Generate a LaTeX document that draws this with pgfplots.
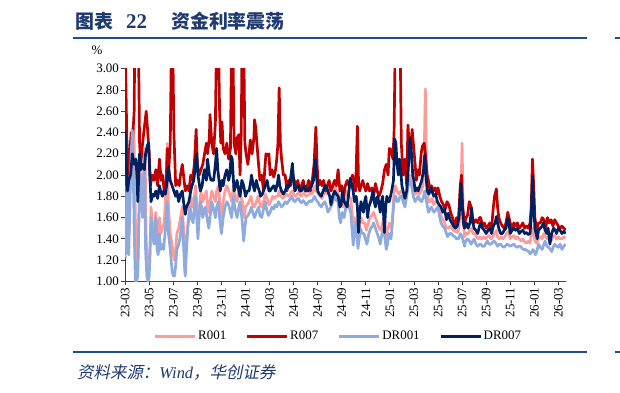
\documentclass[border=0pt]{standalone}
\usepackage{pgfplots}
\pgfplotsset{compat=1.18}
\usepackage{fontspec}
\setmainfont{Liberation Serif}
\newfontfamily\cjk{Noto Sans CJK SC}
\newfontfamily\cjkit[FakeSlant=0.2]{Noto Sans CJK SC}
\definecolor{cR001}{HTML}{FF9C9A}
\definecolor{cR007}{HTML}{C00000}
\definecolor{cDR001}{HTML}{8FAADC}
\definecolor{cDR007}{HTML}{002060}
\definecolor{ttl}{HTML}{1F3A70}
\definecolor{rule}{HTML}{1F4E8C}
\begin{document}
\begin{tikzpicture}[x=1bp,y=1bp]
\useasboundingbox (0,0) rectangle (620,392);
% title
\node[anchor=base west,inner sep=0,text=ttl,font=\fontsize{19}{22}\selectfont\bfseries] at (75,364) {{\cjk 图表}};
\node[anchor=base west,inner sep=0,text=ttl,font=\fontsize{21}{22}\selectfont\bfseries] at (126,364) {22};
\node[anchor=base west,inner sep=0,text=ttl,font=\fontsize{19}{22}\selectfont\bfseries] at (171,364) {{\cjk 资金利率震荡}};
\draw[rule,line width=2bp] (73,354) -- (587,354);
\draw[rule,line width=2bp] (615,354) -- (620,354);
\draw[rule,line width=2bp] (73,40) -- (587,40);
\draw[rule,line width=2bp] (615,40) -- (620,40);
\node[anchor=base west,inner sep=0,text=ttl,font=\fontsize{16.5}{18}\selectfont] at (77,14) {{\cjkit 资料来源：}\textit{Wind}{\cjkit ，华创证券}};
\node[anchor=center,inner sep=0,font=\fontsize{13}{15}\selectfont] at (97,342) {\%};
\begin{axis}[
  at={(104,104)}, anchor=south west,
  scale only axis, width=441bp, height=212.7bp,
  xmin=0, xmax=36.65, ymin=1, ymax=3,
  axis x line=bottom, axis y line=left,
  axis line style={-, black!75, line width=0.8bp},
  tick align=outside, major tick length=4bp,
  tick style={black!75, line width=0.8bp},
  xtick={0,2,...,36},
  xticklabels={23-03,23-05,23-07,23-09,23-11,24-01,24-03,24-05,24-07,24-09,24-11,25-01,25-03,25-05,25-07,25-09,25-11,26-01,26-03},
  xticklabel style={rotate=90, anchor=east, inner sep=2bp, font=\fontsize{13}{15}\selectfont},
  ytick={1,1.2,...,3.01},
  yticklabel style={/pgf/number format/fixed, /pgf/number format/precision=2, /pgf/number format/fixed zerofill, /pgf/number format/assume math mode=true, font=\fontsize{13}{15}\selectfont, inner sep=2bp},
  legend columns=4,
  legend style={at={(axis description cs:0.483,-0.2586)}, anchor=center, draw=none, fill=none, font=\fontsize{13}{15}\selectfont, /tikz/every even column/.append style={column sep=18bp}, nodes={inner xsep=1.5bp}},
  legend image code/.code={\draw[#1,line width=3bp] (0bp,0bp) -- (40bp,0bp);},
  every axis plot/.append style={line width=2.7bp, line join=round},
]
\addplot[cR001] coordinates {
(0,1.3)(0.1,1.5)(0.15,1.9)(0.25,1.4)(0.35,1.5)(0.45,2.0)(0.55,2.4)(0.65,2.45)(0.75,2.3)(0.85,1.6)(0.95,1.1)(1.05,1.15)(1.15,1.7)(1.25,2.05)(1.35,1.9)(1.45,1.7)(1.55,2.05)(1.65,2.25)(1.75,1.4)(1.85,1.15)(1.95,1.1)(2.05,1.2)(2.15,1.7)(2.25,1.55)(2.4,1.45)(2.55,1.65)(2.65,1.4)(2.75,1.5)(2.85,1.6)(2.95,1.45)(3.1,1.5)(3.25,1.55)(3.4,1.9)(3.5,2.3)(3.6,1.7)(3.75,1.45)(3.9,1.35)(4.0,1.25)(4.1,1.2)(4.2,1.3)(4.3,1.45)(4.45,1.5)(4.6,1.6)(4.75,1.7)(4.85,1.5)(4.95,1.3)(5.05,1.25)(5.15,1.45)(5.3,1.65)(5.45,1.8)(5.6,1.7)(5.75,1.8)(5.85,1.9)(5.95,1.75)(6.05,1.55)(6.2,1.7)(6.3,1.85)(6.45,1.75)(6.6,1.8)(6.75,1.85)(6.9,1.65)(7.05,1.75)(7.2,1.85)(7.35,1.8)(7.5,1.75)(7.6,1.85)(7.75,1.9)(7.9,1.7)(8.0,1.6)(8.15,1.75)(8.3,1.85)(8.45,1.9)(8.6,1.85)(8.75,1.8)(8.85,1.75)(9.0,1.9)(9.15,1.8)(9.3,1.75)(9.45,1.85)(9.6,1.8)(9.75,1.75)(9.9,1.6)(10.0,1.7)(10.15,1.72)(10.3,1.75)(10.45,1.8)(10.6,1.72)(10.75,1.7)(10.9,1.75)(11.05,1.8)(11.2,1.72)(11.35,1.7)(11.5,1.75)(11.65,1.82)(11.8,1.78)(11.95,1.72)(12.1,1.75)(12.25,1.8)(12.4,1.78)(12.55,1.8)(12.7,1.8)(12.8,1.85)(12.95,1.8)(13.1,1.78)(13.25,1.8)(13.4,1.82)(13.55,1.8)(13.7,1.82)(13.85,1.85)(14.0,1.82)(14.15,1.8)(14.3,1.82)(14.45,1.84)(14.6,1.8)(14.75,1.82)(14.9,1.83)(15.05,1.8)(15.2,1.81)(15.35,1.83)(15.5,1.82)(15.65,1.85)(15.8,1.9)(15.9,1.85)(16.05,1.82)(16.2,1.8)(16.35,1.78)(16.5,1.82)(16.65,1.85)(16.8,1.82)(16.95,1.9)(17.1,1.85)(17.25,1.88)(17.4,1.9)(17.55,1.85)(17.7,1.82)(17.85,1.7)(18.0,1.72)(18.15,1.7)(18.3,1.8)(18.45,1.85)(18.6,1.8)(18.75,1.78)(18.9,1.6)(19.0,1.45)(19.1,1.6)(19.25,1.55)(19.35,1.42)(19.45,1.5)(19.6,1.6)(19.75,1.55)(19.9,1.55)(20.05,1.48)(20.2,1.55)(20.35,1.6)(20.5,1.62)(20.65,1.65)(20.8,1.6)(20.95,1.55)(21.1,1.5)(21.25,1.48)(21.4,1.55)(21.5,1.6)(21.6,1.5)(21.7,1.42)(21.8,1.48)(21.95,1.55)(22.05,1.52)(22.15,1.5)(22.25,1.65)(22.35,1.85)(22.45,1.9)(22.6,1.85)(22.75,1.82)(22.9,1.85)(23.0,1.85)(23.15,1.8)(23.3,1.78)(23.45,1.85)(23.6,1.95)(23.7,2.0)(23.85,1.95)(24.0,1.85)(24.15,1.82)(24.3,1.85)(24.45,1.82)(24.6,1.85)(24.75,1.9)(24.85,2.2)(24.95,2.81)(25.05,2.0)(25.2,1.75)(25.35,1.75)(25.5,1.78)(25.65,1.72)(25.8,1.75)(25.95,1.75)(26.1,1.68)(26.25,1.62)(26.4,1.58)(26.55,1.55)(26.7,1.5)(26.85,1.5)(27.0,1.52)(27.15,1.5)(27.3,1.48)(27.45,1.47)(27.6,1.46)(27.75,1.5)(27.9,1.8)(28.0,2.3)(28.1,1.6)(28.2,1.42)(28.35,1.45)(28.5,1.45)(28.65,1.48)(28.8,1.5)(28.9,1.45)(29.05,1.45)(29.2,1.42)(29.35,1.4)(29.5,1.42)(29.65,1.4)(29.8,1.42)(29.95,1.4)(30.1,1.42)(30.25,1.43)(30.4,1.4)(30.55,1.42)(30.7,1.45)(30.85,1.48)(30.95,1.42)(31.1,1.4)(31.25,1.42)(31.4,1.4)(31.55,1.42)(31.7,1.45)(31.85,1.47)(32.0,1.4)(32.15,1.42)(32.3,1.43)(32.45,1.4)(32.6,1.42)(32.75,1.4)(32.9,1.38)(33.05,1.4)(33.2,1.37)(33.35,1.36)(33.5,1.38)(33.65,1.36)(33.75,1.45)(33.85,1.5)(33.95,1.45)(34.05,1.38)(34.2,1.36)(34.35,1.4)(34.5,1.42)(34.65,1.4)(34.8,1.45)(34.95,1.42)(35.1,1.4)(35.25,1.42)(35.4,1.38)(35.55,1.42)(35.7,1.43)(35.85,1.4)(36.0,1.42)(36.15,1.4)(36.3,1.4)(36.45,1.42)(36.6,1.41)
};
\addlegendentry{R001}
\addplot[cR007] coordinates {
(0,3.3)(0.1,2.6)(0.2,2.0)(0.35,2.15)(0.5,2.4)(0.6,2.3)(0.75,2.6)(0.8,3.3)(0.95,3.3)(1.1,3.3)(1.2,2.3)(1.3,2.1)(1.45,2.3)(1.6,2.45)(1.75,2.6)(1.85,2.45)(2.0,2.2)(2.1,1.9)(2.25,2.0)(2.4,1.95)(2.55,2.05)(2.7,1.9)(2.85,2.15)(3.0,1.95)(3.1,2.0)(3.25,1.85)(3.4,1.9)(3.5,2.25)(3.6,2.0)(3.75,2.3)(3.85,3.3)(3.95,3.3)(4.05,2.4)(4.2,1.9)(4.35,1.95)(4.5,1.9)(4.6,2.0)(4.75,2.1)(4.9,1.95)(5.0,1.85)(5.15,1.9)(5.3,1.85)(5.45,2.0)(5.6,1.95)(5.75,2.1)(5.9,2.43)(6.0,2.1)(6.15,2.0)(6.3,2.05)(6.45,2.1)(6.6,2.2)(6.75,2.3)(6.85,2.2)(7.0,2.35)(7.05,2.57)(7.2,2.3)(7.35,2.2)(7.5,2.5)(7.6,3.3)(7.75,3.3)(7.85,2.6)(7.95,2.3)(8.05,2.5)(8.15,2.25)(8.3,2.2)(8.45,2.3)(8.6,2.15)(8.75,2.25)(8.85,3.3)(8.95,3.3)(9.05,2.3)(9.2,2.2)(9.3,2.35)(9.45,2.38)(9.55,2.0)(9.65,2.4)(9.72,3.3)(9.85,3.3)(9.95,2.3)(10.05,2.2)(10.2,2.1)(10.3,2.2)(10.4,2.33)(10.55,2.2)(10.7,2.35)(10.75,2.52)(10.85,2.45)(10.95,2.3)(11.05,2.15)(11.2,1.95)(11.35,2.0)(11.5,1.85)(11.6,2.05)(11.7,2.2)(11.85,2.18)(11.95,2.2)(12.05,2.0)(12.2,2.05)(12.35,1.98)(12.5,2.05)(12.6,2.15)(12.7,2.3)(12.8,2.82)(12.9,2.3)(13.0,2.15)(13.15,2.0)(13.3,2.0)(13.45,1.85)(13.6,1.95)(13.75,1.9)(13.9,2.0)(14.05,1.95)(14.2,1.9)(14.35,1.95)(14.5,1.85)(14.65,1.9)(14.8,1.95)(14.95,1.85)(15.1,1.88)(15.25,1.95)(15.4,1.85)(15.55,1.95)(15.7,2.1)(15.85,2.45)(15.95,2.1)(16.05,1.9)(16.2,1.95)(16.35,1.9)(16.5,1.95)(16.65,1.85)(16.8,1.9)(16.95,1.95)(17.1,1.85)(17.25,1.9)(17.4,1.95)(17.55,1.9)(17.7,2.05)(17.85,1.85)(18.0,1.9)(18.15,1.8)(18.3,1.9)(18.45,1.95)(18.6,1.9)(18.75,1.95)(18.9,2.0)(19.05,1.9)(19.15,1.85)(19.3,2.46)(19.4,1.9)(19.5,1.85)(19.6,1.9)(19.75,1.95)(19.85,1.9)(20.0,1.85)(20.15,1.92)(20.3,1.85)(20.5,1.88)(20.65,1.8)(20.8,1.92)(20.95,1.85)(21.1,1.8)(21.25,1.85)(21.4,1.92)(21.55,2.05)(21.7,2.1)(21.85,2.0)(21.95,2.25)(22.1,2.24)(22.25,2.15)(22.35,2.4)(22.45,3.3)(22.6,3.3)(22.75,3.3)(22.85,3.3)(22.95,2.3)(23.1,2.0)(23.25,2.15)(23.4,1.9)(23.5,2.47)(23.6,2.3)(23.7,2.2)(23.85,2.43)(23.95,2.3)(24.1,2.1)(24.2,1.95)(24.35,2.05)(24.45,2.0)(24.6,2.2)(24.7,2.27)(24.85,2.3)(24.95,2.2)(25.1,2.0)(25.2,1.95)(25.35,1.85)(25.45,1.9)(25.6,1.85)(25.75,1.88)(25.9,1.82)(26.0,1.88)(26.15,1.8)(26.3,1.75)(26.45,1.72)(26.6,1.68)(26.75,1.75)(26.9,1.72)(27.05,1.65)(27.2,1.6)(27.4,1.53)(27.55,1.6)(27.7,1.58)(27.85,1.9)(27.95,2.0)(28.05,1.7)(28.2,1.55)(28.35,1.6)(28.45,1.62)(28.6,1.75)(28.75,1.7)(28.85,1.6)(29.0,1.55)(29.15,1.58)(29.3,1.55)(29.45,1.6)(29.55,1.6)(29.7,1.52)(29.85,1.55)(30.0,1.5)(30.15,1.52)(30.3,1.55)(30.45,1.5)(30.6,1.7)(30.7,1.8)(30.85,1.87)(30.95,1.7)(31.05,1.6)(31.2,1.55)(31.35,1.52)(31.5,1.5)(31.65,1.55)(31.8,1.65)(31.9,1.6)(32.0,1.55)(32.15,1.5)(32.3,1.55)(32.45,1.52)(32.6,1.55)(32.75,1.5)(32.9,1.52)(33.05,1.55)(33.2,1.5)(33.35,1.52)(33.5,1.5)(33.65,1.55)(33.75,1.7)(33.85,2.15)(33.95,1.9)(34.05,1.6)(34.2,1.48)(34.35,1.55)(34.5,1.55)(34.65,1.6)(34.8,1.58)(34.95,1.5)(35.1,1.6)(35.25,1.55)(35.4,1.58)(35.55,1.52)(35.7,1.58)(35.85,1.55)(36.0,1.52)(36.15,1.5)(36.3,1.52)(36.45,1.5)(36.6,1.48)
};
\addlegendentry{R007}
\addplot[cDR001] coordinates {
(0,1.22)(0.08,1.35)(0.15,1.85)(0.22,1.3)(0.3,1.25)(0.4,1.8)(0.5,2.2)(0.6,2.42)(0.68,2.0)(0.75,1.5)(0.85,1.0)(0.95,1.0)(1.05,1.05)(1.15,1.6)(1.25,2.0)(1.35,1.8)(1.45,1.6)(1.55,2.0)(1.6,2.2)(1.7,1.3)(1.8,1.05)(1.9,1.0)(2.0,1.05)(2.1,1.4)(2.15,1.6)(2.25,1.45)(2.4,1.35)(2.5,1.55)(2.55,1.6)(2.65,1.3)(2.75,1.25)(2.85,1.45)(2.95,1.3)(3.05,1.35)(3.2,1.3)(3.35,1.5)(3.5,1.75)(3.6,1.45)(3.75,1.3)(3.9,1.1)(4.0,1.05)(4.1,1.05)(4.2,1.15)(4.3,1.3)(4.45,1.35)(4.55,1.4)(4.65,1.5)(4.75,1.6)(4.85,1.35)(4.95,1.1)(5.0,1.05)(5.1,1.3)(5.2,1.5)(5.3,1.6)(5.4,1.7)(5.5,1.6)(5.65,1.55)(5.75,1.7)(5.85,1.8)(5.95,1.6)(6.05,1.4)(6.15,1.6)(6.25,1.75)(6.35,1.7)(6.45,1.6)(6.55,1.65)(6.65,1.7)(6.8,1.6)(6.95,1.5)(7.05,1.6)(7.2,1.75)(7.3,1.7)(7.4,1.65)(7.5,1.6)(7.6,1.7)(7.75,1.75)(7.85,1.6)(8.0,1.45)(8.15,1.6)(8.3,1.7)(8.45,1.75)(8.6,1.72)(8.75,1.65)(8.85,1.6)(9.0,1.8)(9.1,1.7)(9.2,1.65)(9.3,1.6)(9.45,1.7)(9.55,1.75)(9.7,1.6)(9.85,1.38)(9.95,1.5)(10.05,1.6)(10.2,1.62)(10.35,1.65)(10.5,1.7)(10.6,1.65)(10.75,1.6)(10.9,1.65)(11.1,1.7)(11.2,1.62)(11.35,1.6)(11.5,1.68)(11.65,1.75)(11.75,1.68)(11.9,1.62)(12.05,1.65)(12.2,1.7)(12.35,1.68)(12.45,1.72)(12.6,1.7)(12.75,1.75)(12.9,1.72)(13.0,1.7)(13.15,1.72)(13.3,1.75)(13.45,1.73)(13.55,1.75)(13.7,1.77)(13.85,1.8)(14.0,1.76)(14.1,1.75)(14.25,1.77)(14.4,1.78)(14.55,1.75)(14.65,1.74)(14.8,1.76)(15.05,1.72)(15.2,1.74)(15.35,1.76)(15.5,1.75)(15.65,1.78)(15.75,1.8)(15.9,1.76)(16.0,1.75)(16.15,1.72)(16.3,1.7)(16.45,1.73)(16.6,1.75)(16.75,1.7)(16.85,1.65)(17.0,1.68)(17.1,1.7)(17.25,1.75)(17.4,1.8)(17.55,1.76)(17.7,1.75)(17.8,1.6)(17.9,1.55)(18.05,1.65)(18.2,1.6)(18.35,1.7)(18.45,1.75)(18.6,1.7)(18.75,1.65)(18.85,1.5)(18.95,1.34)(19.05,1.45)(19.15,1.55)(19.25,1.45)(19.35,1.31)(19.45,1.4)(19.55,1.5)(19.7,1.45)(19.85,1.45)(19.95,1.4)(20.1,1.35)(20.25,1.45)(20.4,1.5)(20.55,1.52)(20.65,1.55)(20.8,1.5)(20.95,1.45)(21.1,1.4)(21.2,1.35)(21.35,1.45)(21.5,1.5)(21.6,1.4)(21.7,1.3)(21.8,1.35)(21.9,1.45)(22.0,1.42)(22.1,1.4)(22.2,1.55)(22.3,1.7)(22.4,1.8)(22.5,1.8)(22.6,1.75)(22.7,1.75)(22.85,1.8)(23.0,1.8)(23.1,1.75)(23.25,1.7)(23.4,1.8)(23.5,1.9)(23.65,1.95)(23.8,1.9)(23.95,1.8)(24.1,1.75)(24.25,1.78)(24.35,1.8)(24.5,1.76)(24.65,1.75)(24.8,1.8)(24.9,1.85)(25.05,1.75)(25.2,1.65)(25.35,1.68)(25.45,1.7)(25.6,1.66)(25.7,1.65)(25.85,1.68)(26.0,1.7)(26.15,1.6)(26.25,1.55)(26.4,1.52)(26.55,1.5)(26.7,1.45)(26.8,1.42)(26.95,1.45)(27.1,1.45)(27.25,1.43)(27.4,1.42)(27.55,1.4)(27.7,1.4)(27.85,1.45)(28.0,1.42)(28.2,1.33)(28.3,1.38)(28.45,1.4)(28.6,1.38)(28.75,1.35)(28.9,1.38)(29.0,1.4)(29.15,1.35)(29.3,1.33)(29.45,1.35)(29.55,1.35)(29.7,1.33)(29.85,1.33)(30.0,1.36)(30.1,1.38)(30.25,1.35)(30.4,1.35)(30.55,1.37)(30.65,1.38)(30.8,1.36)(30.95,1.33)(31.1,1.35)(31.2,1.35)(31.35,1.33)(31.5,1.32)(31.65,1.34)(31.75,1.35)(31.9,1.34)(32.0,1.33)(32.15,1.34)(32.3,1.35)(32.45,1.33)(32.55,1.32)(32.7,1.33)(32.85,1.33)(33.0,1.31)(33.1,1.3)(33.25,1.3)(33.4,1.29)(33.55,1.28)(33.65,1.26)(33.75,1.27)(33.9,1.3)(34.0,1.28)(34.1,1.25)(34.25,1.3)(34.35,1.35)(34.5,1.32)(34.65,1.3)(34.8,1.35)(34.9,1.38)(35.05,1.33)(35.2,1.32)(35.35,1.3)(35.45,1.28)(35.6,1.33)(35.7,1.35)(35.85,1.33)(36.0,1.32)(36.15,1.35)(36.3,1.3)(36.45,1.33)(36.6,1.35)
};
\addlegendentry{DR001}
\addplot[cDR007] coordinates {
(0,2.42)(0.1,2.1)(0.2,1.85)(0.3,1.95)(0.45,2.0)(0.6,2.2)(0.75,2.1)(0.9,2.15)(1.0,1.95)(1.05,1.75)(1.2,2.2)(1.3,2.05)(1.45,2.1)(1.6,2.05)(1.7,2.2)(1.85,2.28)(1.95,2.3)(2.05,2.0)(2.15,1.75)(2.3,1.82)(2.4,1.8)(2.55,1.85)(2.7,1.78)(2.85,1.9)(2.95,1.85)(3.1,1.8)(3.2,1.85)(3.35,1.82)(3.5,1.95)(3.6,2.08)(3.75,1.95)(3.9,1.9)(4.05,1.85)(4.2,1.8)(4.3,1.85)(4.45,1.75)(4.6,1.82)(4.75,1.85)(4.85,1.75)(5.0,1.63)(5.1,1.7)(5.3,1.75)(5.45,1.85)(5.55,1.9)(5.7,1.95)(5.85,2.1)(5.95,2.2)(6.05,2.0)(6.25,1.85)(6.4,1.9)(6.5,2.0)(6.6,2.05)(6.75,1.95)(6.85,2.15)(7.0,2.0)(7.15,1.95)(7.35,1.95)(7.5,2.1)(7.6,2.25)(7.7,2.05)(7.9,1.85)(8.05,1.95)(8.15,1.9)(8.3,2.0)(8.45,2.05)(8.6,1.95)(8.7,2.0)(8.8,2.18)(8.9,2.15)(9.05,1.85)(9.2,1.9)(9.3,1.95)(9.45,1.85)(9.55,1.8)(9.7,1.95)(9.85,1.9)(10.0,1.8)(10.15,1.85)(10.3,1.85)(10.45,1.95)(10.5,2.0)(10.65,1.9)(10.75,1.85)(10.9,1.95)(11.0,1.9)(11.15,1.85)(11.25,1.8)(11.4,1.82)(11.5,1.85)(11.65,1.9)(11.8,1.95)(11.95,1.85)(12.05,1.85)(12.2,1.88)(12.35,1.9)(12.5,1.85)(12.65,1.92)(12.75,2.0)(12.85,1.9)(13.0,1.85)(13.15,1.82)(13.3,1.85)(13.45,1.9)(13.55,1.88)(13.7,1.92)(13.9,2.11)(14.0,1.95)(14.1,1.85)(14.25,1.88)(14.4,1.9)(14.55,1.85)(14.65,1.85)(14.8,1.88)(14.9,1.9)(15.05,1.85)(15.2,1.85)(15.35,1.88)(15.5,1.9)(15.65,1.95)(15.8,2.15)(15.9,2.0)(16.0,1.85)(16.15,1.82)(16.3,1.8)(16.45,1.85)(16.6,1.9)(16.75,1.88)(16.85,1.85)(17.0,1.8)(17.1,1.72)(17.25,1.8)(17.4,1.85)(17.55,1.82)(17.7,1.8)(17.85,1.7)(17.95,1.72)(18.05,1.85)(18.2,1.75)(18.35,1.72)(18.45,1.7)(18.6,1.85)(18.7,1.97)(18.85,1.9)(18.95,1.85)(19.05,1.75)(19.2,1.8)(19.3,1.7)(19.4,1.46)(19.5,1.65)(19.6,1.75)(19.7,1.7)(19.8,1.65)(19.9,1.75)(20.0,1.8)(20.15,1.6)(20.25,1.7)(20.4,1.75)(20.5,1.8)(20.6,1.85)(20.7,1.75)(20.8,1.7)(20.9,1.78)(21.0,1.8)(21.1,1.72)(21.2,1.65)(21.3,1.75)(21.4,1.8)(21.55,1.46)(21.65,1.7)(21.75,1.8)(21.85,1.75)(21.95,1.75)(22.05,1.8)(22.15,1.85)(22.3,1.95)(22.4,2.34)(22.5,2.3)(22.6,2.1)(22.7,2.0)(22.8,2.15)(22.9,2.05)(23.0,1.9)(23.1,1.85)(23.25,1.78)(23.4,1.85)(23.5,2.0)(23.6,2.2)(23.67,2.35)(23.8,2.2)(23.9,2.0)(24.0,1.95)(24.1,1.85)(24.25,1.88)(24.35,1.85)(24.5,1.9)(24.65,1.95)(24.8,2.05)(24.9,2.19)(25.0,2.0)(25.1,1.85)(25.25,1.82)(25.4,1.88)(25.5,1.85)(25.65,1.8)(25.8,1.82)(25.95,1.75)(26.1,1.72)(26.25,1.7)(26.4,1.65)(26.55,1.68)(26.7,1.58)(26.85,1.64)(27.0,1.58)(27.15,1.55)(27.3,1.52)(27.45,1.5)(27.6,1.52)(27.75,1.6)(27.9,1.92)(28.0,1.75)(28.1,1.55)(28.2,1.5)(28.35,1.55)(28.5,1.5)(28.65,1.55)(28.8,1.69)(28.9,1.55)(29.0,1.5)(29.15,1.48)(29.3,1.45)(29.45,1.52)(29.55,1.55)(29.7,1.5)(29.85,1.48)(30.0,1.45)(30.15,1.48)(30.3,1.5)(30.45,1.45)(30.6,1.52)(30.75,1.55)(30.85,1.61)(30.95,1.55)(31.05,1.5)(31.2,1.45)(31.35,1.45)(31.5,1.48)(31.65,1.5)(31.8,1.6)(31.9,1.55)(32.0,1.45)(32.15,1.48)(32.3,1.5)(32.45,1.48)(32.6,1.5)(32.75,1.45)(32.9,1.47)(33.05,1.48)(33.2,1.45)(33.35,1.46)(33.5,1.44)(33.65,1.45)(33.75,1.6)(33.85,1.99)(33.95,1.75)(34.05,1.5)(34.15,1.45)(34.25,1.4)(34.35,1.48)(34.5,1.5)(34.65,1.52)(34.75,1.55)(34.9,1.48)(35.05,1.45)(35.15,1.5)(35.3,1.35)(35.45,1.45)(35.6,1.5)(35.75,1.48)(35.85,1.45)(36.0,1.5)(36.15,1.48)(36.3,1.45)(36.45,1.47)(36.6,1.45)
};
\addlegendentry{DR007}
\end{axis}
\end{tikzpicture}
\end{document}
